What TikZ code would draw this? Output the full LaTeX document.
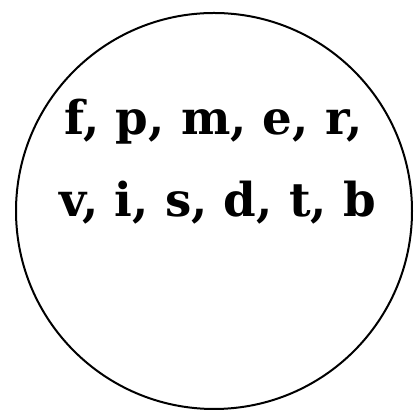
\documentclass[tikz,border=0pt]{standalone}
\usepackage{fontspec}
\newfontfamily\letterfont{DejaVu Serif}
\begin{document}
\begin{tikzpicture}[x=1pt,y=1pt,
  ring/.style={draw=black,line width=2pt},
  letters/.style={font=\letterfont\fontsize{46.7}{82}\selectfont\bfseries,inner sep=0pt,anchor=base}]
\useasboundingbox (0,0) rectangle (415,411);
\node[ring,circle,minimum size=396pt,inner sep=0pt] (c) at (214,200) {};
\node[letters] (l1) at (213.5,276.5) {f, p, m, e, r,};
\node[letters] (l2) at (217.5,194) {v, i, s, d, t, b};
\end{tikzpicture}
\end{document}
